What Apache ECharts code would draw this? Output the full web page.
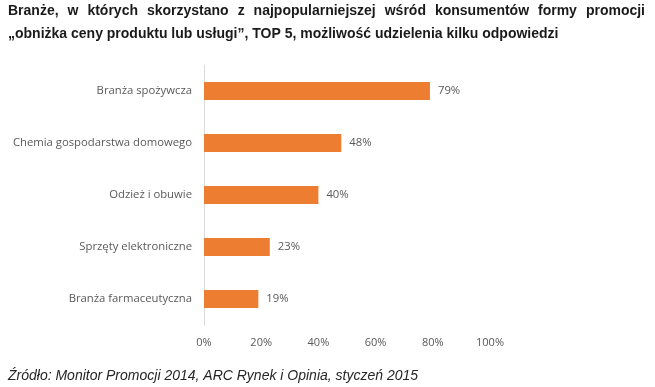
<!DOCTYPE html>
<html><head><meta charset="utf-8">
<script src="https://cdn.jsdelivr.net/npm/echarts@6/dist/echarts.min.js"></script>
<style>html,body{margin:0;padding:0;background:#fff}#c{width:655px;height:387px}</style>
</head><body><div id="c"></div>
<script>
var categories = ['Branża spożywcza','Chemia gospodarstwa domowego','Odzież i obuwie','Sprzęty elektroniczne','Branża farmaceutyczna'];
var values = [79, 48, 40, 23, 19];
var xTicks = [0, 20, 40, 60, 80, 100];
var titleLine1 = 'Branże, w których skorzystano z najpopularniejszej wśród konsumentów formy promocji';
var titleLine2 = '„obniżka ceny produktu lub usługi”, TOP 5, możliwość udzielenia kilku odpowiedzi';
var sourceText = 'Źródło: Monitor Promocji 2014, ARC Rynek i Opinia, styczeń 2015';

var titleFont = 'bold 14px "Liberation Sans", Arial, sans-serif';
var ctx = document.createElement('canvas').getContext('2d');
ctx.font = titleFont;
var words = titleLine1.split(' ');
var left = 8, right = 645;
var total = 0, widths = [];
words.forEach(function(w){ var m = ctx.measureText(w).width; widths.push(m); total += m; });
var gap = (right - left - total) / (words.length - 1);
var graphics = [];
var xp = left;
words.forEach(function(w, i){
  graphics.push({type:'text', left: xp, top: 4, style:{text: w, font: titleFont, fill:'#1a1a1a'}});
  xp += widths[i] + gap;
});
graphics.push({type:'text', left: 8, top: 27, style:{text: titleLine2, font: titleFont, fill:'#1a1a1a'}});
graphics.push({type:'text', left: 8, top: 369, style:{text: sourceText, font: 'italic 14px "Liberation Sans", Arial, sans-serif', fill:'#262626'}});

var chart = echarts.init(document.getElementById('c'));
chart.setOption({
  animation: false,
  graphic: graphics,
  grid: {left: 204, right: 165, top: 65, bottom: 62, containLabel: false},
  xAxis: {
    type: 'value', min: 0, max: 100, interval: 20,
    axisLine: {show: false}, axisTick: {show: false}, splitLine: {show: false},
    axisLabel: {formatter: function(v){ return xTicks.indexOf(v) >= 0 ? v + '%' : ''; }, color: '#595959', fontSize: 11, fontFamily: 'Open Sans', margin: 12}
  },
  yAxis: {
    type: 'category', data: categories, inverse: true,
    axisLine: {show: true, lineStyle: {color: '#d9d9d9'}},
    axisTick: {show: false},
    axisLabel: {color: '#595959', fontSize: 11.3, fontFamily: 'Open Sans', margin: 12}
  },
  series: [{
    type: 'bar', data: values, barWidth: 18,
    itemStyle: {color: '#ed7d31'},
    label: {show: true, position: 'right', distance: 8, formatter: '{c}%', color: '#595959', fontSize: 11.3, fontFamily: 'Open Sans'}
  }]
});
</script></body></html>
